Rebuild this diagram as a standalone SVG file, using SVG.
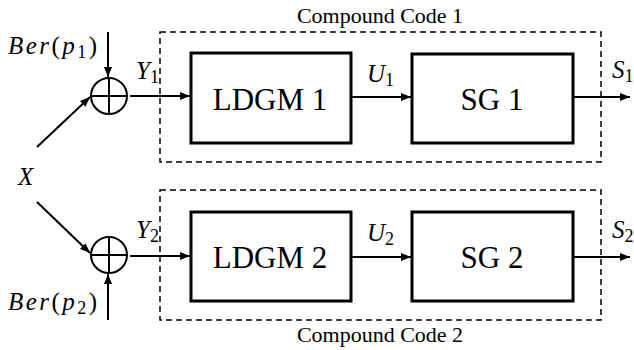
<svg xmlns="http://www.w3.org/2000/svg" width="634" height="350" viewBox="0 0 634 350">
<style>
.box{fill:#fff;stroke:#000;stroke-width:3}
.dash{fill:none;stroke:#000;stroke-width:1.5;stroke-dasharray:6,4}
.ln{stroke:#000;stroke-width:2;fill:none}
.math{font-style:italic;font-size:25px}
.up{font-style:normal}
.sub{font-style:normal;font-size:18px}
.big{font-size:31px;text-anchor:middle}
.cap{font-size:22px;text-anchor:middle}
</style>
<defs>
<marker id="ah" viewBox="0 0 10 10" refX="10" refY="5" markerWidth="5" markerHeight="5" orient="auto" markerUnits="strokeWidth">
<path d="M0,1 L10,5 L0,9 z" fill="#000"/>
</marker>
</defs>
<g font-family="Liberation Serif, Times New Roman, DejaVu Serif, serif" fill="#000">
<g id="compound1">
<rect class="dash" x="160" y="32" width="441" height="130"/>
<text class="cap" x="380" y="23">Compound Code 1</text>
</g>
<g id="compound2">
<rect class="dash" x="160" y="190" width="441" height="130"/>
<text class="cap" x="380" y="342">Compound Code 2</text>
</g>
<g id="ldgm1"><rect class="box" x="191" y="53" width="160" height="90"/><text class="big" x="270" y="110">LDGM 1</text></g>
<g id="sg1"><rect class="box" x="412" y="54" width="161" height="89"/><text class="big" x="492" y="110">SG 1</text></g>
<g id="ldgm2"><rect class="box" x="191" y="212" width="160" height="89"/><text class="big" x="270" y="268">LDGM 2</text></g>
<g id="sg2"><rect class="box" x="412" y="212" width="161" height="89"/><text class="big" x="492" y="268">SG 2</text></g>
<g id="xor1"><circle class="ln" cx="109" cy="96" r="18"/><line class="ln" x1="91" y1="96" x2="127" y2="96"/><line class="ln" x1="109" y1="78" x2="109" y2="114"/></g>
<g id="xor2"><circle class="ln" cx="109" cy="255" r="18"/><line class="ln" x1="91" y1="255" x2="127" y2="255"/><line class="ln" x1="109" y1="237" x2="109" y2="273"/></g>
<g id="connectors">
<line class="ln" x1="108" y1="32" x2="108" y2="77" marker-end="url(#ah)"/>
<line class="ln" x1="37" y1="147" x2="90" y2="97" marker-end="url(#ah)"/>
<line class="ln" x1="130" y1="96" x2="190" y2="96" marker-end="url(#ah)"/>
<line class="ln" x1="351" y1="97" x2="411" y2="97" marker-end="url(#ah)"/>
<line class="ln" x1="573" y1="97" x2="630" y2="97" marker-end="url(#ah)"/>
<line class="ln" x1="108" y1="320" x2="108" y2="274" marker-end="url(#ah)"/>
<line class="ln" x1="37" y1="202" x2="90" y2="253" marker-end="url(#ah)"/>
<line class="ln" x1="130" y1="256" x2="190" y2="256" marker-end="url(#ah)"/>
<line class="ln" x1="351" y1="257" x2="411" y2="257" marker-end="url(#ah)"/>
<line class="ln" x1="573" y1="257" x2="630" y2="257" marker-end="url(#ah)"/>
</g>
<g id="labels">
<text class="math" x="8" y="54" textLength="89" lengthAdjust="spacing">Ber<tspan class="up">(</tspan>p<tspan class="sub" dy="4">1</tspan><tspan class="up" dy="-4">)</tspan></text>
<text class="math" x="8" y="310" textLength="89" lengthAdjust="spacing">Ber<tspan class="up">(</tspan>p<tspan class="sub" dy="4">2</tspan><tspan class="up" dy="-4">)</tspan></text>
<text class="math" x="18" y="185">X</text>
<text class="math" x="136" y="79">Y<tspan class="sub" dy="4">1</tspan></text>
<text class="math" x="136" y="238">Y<tspan class="sub" dy="4">2</tspan></text>
<text class="math" x="367" y="82">U<tspan class="sub" dy="4">1</tspan></text>
<text class="math" x="367" y="241">U<tspan class="sub" dy="4">2</tspan></text>
<text class="math" x="612" y="78">S<tspan class="sub" dy="4">1</tspan></text>
<text class="math" x="612" y="238">S<tspan class="sub" dy="4">2</tspan></text>
</g>
</g>
</svg>
